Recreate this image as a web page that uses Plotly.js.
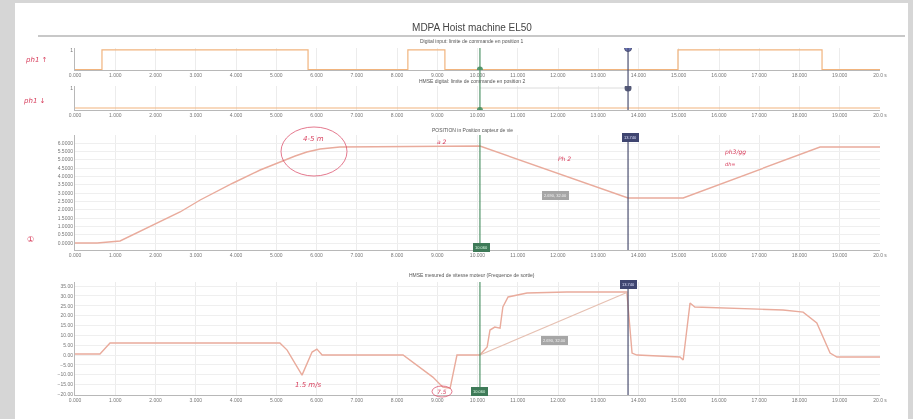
<!DOCTYPE html>
<html>
<head>
<meta charset="utf-8">
<script src="https://cdn.plot.ly/plotly-3.0.1.min.js"></script>
<style>
  html, body { margin:0; padding:0; background:#d6d6d6; width:913px; height:419px; overflow:hidden; }
  #chart { position:absolute; left:15px; top:3px; width:893px; height:416px; background:#fff; filter: blur(0.6px); }
</style>
</head>
<body>
<div id="chart"></div>
<script>
// ---------- DATA ----------
const chartTitle = "MDPA Hoist machine EL50";
const subTitles = [
  "Digital input: limite de commande en position 1",
  "HMSE digital: limite de commande en position 2",
  "POSITION in Position capteur de vie",
  "HMSE mesured de vitesse moteur (Frequence de sortie)"
];
const tickVals = [0,1,2,3,4,5,6,7,8,9,10,11,12,13,14,15,16,17,18,19,20];
const tickLabels = ["0.000","1.000","2.000","3.000","4.000","5.000","6.000","7.000","8.000","9.000","10.000",
  "11.000","12.000","13.000","14.000","15.000","16.000","17.000","18.000","19.000","20.0 s"];

// digital input 1 (step)
const t1 = [0, 0.67, 5.79, 8.27, 9.19, 14.98, 18.56, 20];
const s1 = [0, 1, 0, 1, 0, 1, 0, 0];
// digital input 2
const t2 = [0, 20];
const s2 = [0, 0];
const t2ref = [10.06, 13.74];
const s2ref = [1, 1];
// position (m)
const tPos = [0, 0.55, 1.12, 1.86, 2.61, 3.11, 3.93, 4.60, 5.09, 5.47, 5.76, 6.09, 6.58, 10.06, 13.74, 15.11, 18.51, 20];
const vPos = [0, 0, 0.12, 0.96, 1.86, 2.58, 3.60, 4.38, 4.86, 5.22, 5.46, 5.64, 5.76, 5.82, 2.70, 2.70, 5.76, 5.76];
// motor speed
const tSpd = [0, 0.62, 0.87, 5.09, 5.27, 5.64, 5.89, 6.01, 6.14, 8.15, 8.89, 9.14, 9.32, 9.49, 10.06, 10.24, 10.31, 10.43,
  10.56, 10.63, 10.76, 11.23, 12.22, 13.71, 13.84, 13.96, 15.03, 15.11, 15.28, 15.40, 17.59, 18.09, 18.43, 18.76, 18.93, 20];
const vSpd = [0.5, 0.5, 6.1, 6.1, 2.5, -10.2, 1.5, 3.0, 0, 0, -11.2, -16.3, -16.8, 0, 0, 4.1, 12.7, 14.2,
  13.7, 24.4, 29.5, 31.5, 32.0, 32.0, 1.0, 0, -1.0, -2.5, 26.4, 24.4, 22.9, 21.8, 16.3, 1.0, -1.0, -1.0];
const tDiag = [10.06, 13.74];
const vDiag = [0, 32];
// cursors
const cursorA = 10.06;   // green
const cursorB = 13.74;   // purple
const cursorLabel = "2.690, 32.00";
// handwritten notes
const notes = ["ph1 \u2191", "ph1 \u2193", "\u2460", "4-5 m", "a 2", "Ph 2", "ph3/gg", "dh=", "1.5 m/s", "7.5"];

// ---------- LAYOUT HELPERS (page px -> paper) ----------
const PL = 75, PR = 880, PT = 48, PB = 395;
const px = x => (x - PL) / (PR - PL);
const py = y => (PB - y) / (PB - PT);
const dom = (top, bot) => [py(bot), py(top)];

const orange = "#f1b47e";
const posCol = "#e9ab9c";
const green = "rgba(70,140,95,0.75)";
const purple = "#4b4f70";
const red = "#d8405e";
const font = "Liberation Sans, Arial, sans-serif";

function xax(anchor) {
  return {
    anchor: anchor, range: [0, 20], tickvals: tickVals, ticktext: tickLabels,
    tickfont: {size: 5, color: "#777", family: font}, showgrid: true, gridcolor: "#ececec",
    showline: true, linecolor: "#b8b8b8", zeroline: false, ticks: "", ticklen: 2, fixedrange: true
  };
}
function yax(domain, range, extra) {
  return Object.assign({
    domain: domain, range: range, tickfont: {size: 5, color: "#777", family: font},
    showgrid: true, gridcolor: "#efefef", showline: true, linecolor: "#b8b8b8", zeroline: false
  }, extra);
}

const traces = [
  {x: t1, y: s1, xaxis: "x", yaxis: "y", mode: "lines", line: {shape: "hv", color: orange, width: 1.2}},
  {x: t2, y: s2, xaxis: "x2", yaxis: "y2", mode: "lines", line: {color: orange, width: 1.2}},
  {x: t2ref, y: s2ref, xaxis: "x2", yaxis: "y2", mode: "lines", line: {color: "#dcdcdc", width: 1}},
  {x: tPos, y: vPos, xaxis: "x3", yaxis: "y3", mode: "lines", line: {color: posCol, width: 1.4}},
  {x: tSpd, y: vSpd, xaxis: "x4", yaxis: "y4", mode: "lines", line: {color: posCol, width: 1.4}},
  {x: tDiag, y: vDiag, xaxis: "x4", yaxis: "y4", mode: "lines", line: {color: "#e6c0b2", width: 1.2}},
  // cursor markers
  {x: [cursorB], y: [1.1], xaxis: "x", yaxis: "y", mode: "markers", marker: {color: "#6a74b8", size: 7, line: {color: purple, width: 1}}},
  {x: [cursorA], y: [0], xaxis: "x", yaxis: "y", mode: "markers", marker: {color: "#5a9a70", size: 6}},
  {x: [cursorB], y: [1], xaxis: "x2", yaxis: "y2", mode: "markers", marker: {color: "#555a78", size: 7}},
  {x: [cursorA], y: [-0.1], xaxis: "x2", yaxis: "y2", mode: "markers", marker: {color: "#5a9a70", size: 6}}
];

const shapes = [
  // title rule
  {type: "line", xref: "paper", yref: "paper", x0: px(38), x1: px(905), y0: py(36), y1: py(36), line: {color: "#c8c8c8", width: 2}},
  // cursor lines sub1+2
  {type: "line", xref: "x", yref: "paper", x0: cursorA, x1: cursorA, y0: py(110), y1: py(48), line: {color: green, width: 1.5}},
  {type: "line", xref: "x", yref: "paper", x0: cursorB, x1: cursorB, y0: py(110), y1: py(48), line: {color: purple, width: 1.2}},
  // sub3
  {type: "line", xref: "x3", yref: "paper", x0: cursorA, x1: cursorA, y0: py(250), y1: py(135), line: {color: green, width: 1.5}},
  {type: "line", xref: "x3", yref: "paper", x0: cursorB, x1: cursorB, y0: py(250), y1: py(137), line: {color: purple, width: 1.2}},
  // sub4
  {type: "line", xref: "x4", yref: "paper", x0: cursorA, x1: cursorA, y0: py(395), y1: py(282), line: {color: green, width: 1.5}},
  {type: "line", xref: "x4", yref: "paper", x0: cursorB, x1: cursorB, y0: py(395), y1: py(284), line: {color: purple, width: 1.2}},
  // hand-drawn circles
  {type: "circle", xref: "paper", yref: "paper", x0: px(281), x1: px(347), y0: py(176), y1: py(127), line: {color: "rgba(216,64,94,0.7)", width: 1}},
  {type: "circle", xref: "paper", yref: "paper", x0: px(432), x1: px(452), y0: py(397), y1: py(386), line: {color: "rgba(216,64,94,0.7)", width: 1}}
];

function sub(text, y) {
  return {text: text, xref: "paper", yref: "paper", x: px(472), y: py(y), showarrow: false,
    font: {size: 5, color: "#555", family: font}, xanchor: "center", yanchor: "middle"};
}
function hand(text, x, y, size) {
  return {text: text, xref: "paper", yref: "paper", x: px(x), y: py(y), showarrow: false,
    font: {size: size || 7, color: red, family: "DejaVu Sans, sans-serif", style: "italic"}, xanchor: "center", yanchor: "middle"};
}
function box(text, x, y, bg, col, size) {
  return {text: text, xref: "paper", yref: "paper", x: px(x), y: py(y), showarrow: false,
    font: {size: size || 4, color: col, family: font}, bgcolor: bg, borderpad: 1, bordercolor: bg,
    xanchor: "center", yanchor: "middle"};
}

const annotations = [
  sub(subTitles[0], 41), sub(subTitles[1], 81), sub(subTitles[2], 130), sub(subTitles[3], 275),
  box(cursorLabel, 555, 195, "#a6a6a6", "#f4f4f4", 4),
  box(cursorLabel, 554, 340, "#a6a6a6", "#f4f4f4", 4),
  box("13.740", 630, 137, "#3f4570", "#dfe2ff", 4),
  box("13.740", 628, 284, "#3f4570", "#dfe2ff", 4),
  box("10.060", 481, 247, "#3e7a58", "#e0ffe9", 4),
  box("10.060", 480, 391, "#3e7a58", "#e0ffe9", 4),
  hand(notes[0], 36, 60, 7),
  hand(notes[1], 34, 101, 7),
  hand(notes[2], 30, 240, 8),
  hand(notes[3], 313, 139, 7),
  hand(notes[4], 442, 141, 6),
  hand(notes[5], 564, 158, 6),
  hand(notes[6], 735, 152, 6),
  hand(notes[7], 730, 164, 5),
  hand(notes[8], 308, 385, 7),
  hand(notes[9], 442, 391, 6)
];

const layout = {
  width: 893, height: 416,
  margin: {l: PL - 15, r: 908 - PR, t: PT - 3, b: 419 - PB},
  paper_bgcolor: "#ffffff", plot_bgcolor: "#ffffff",
  showlegend: false,
  title: {text: chartTitle, font: {size: 10, color: "#444", family: font}, x: (472 - 15) / 893, xanchor: "center",
          y: 1 - 24 / 416, yanchor: "middle", yref: "container", xref: "container"},
  xaxis: xax("y"), xaxis2: xax("y2"), xaxis3: xax("y3"), xaxis4: xax("y4"),
  yaxis: yax(dom(48, 70), [-0.02, 1.1], {tickvals: [0, 1], ticktext: ["", "1"], showgrid: false}),
  yaxis2: yax(dom(86, 110), [-0.1, 1.1], {tickvals: [0, 1], ticktext: ["", "1"], showgrid: false}),
  yaxis3: yax(dom(135, 250), [-0.42, 6.48], {dtick: 0.5, tickformat: ".4f"}),
  yaxis4: yax(dom(282, 395), [-20.3, 37.1], {dtick: 5, tickformat: ".2f"}),
  shapes: shapes,
  annotations: annotations
};

Plotly.newPlot("chart", traces, layout, {staticPlot: true, displayModeBar: false});
</script>
</body>
</html>
